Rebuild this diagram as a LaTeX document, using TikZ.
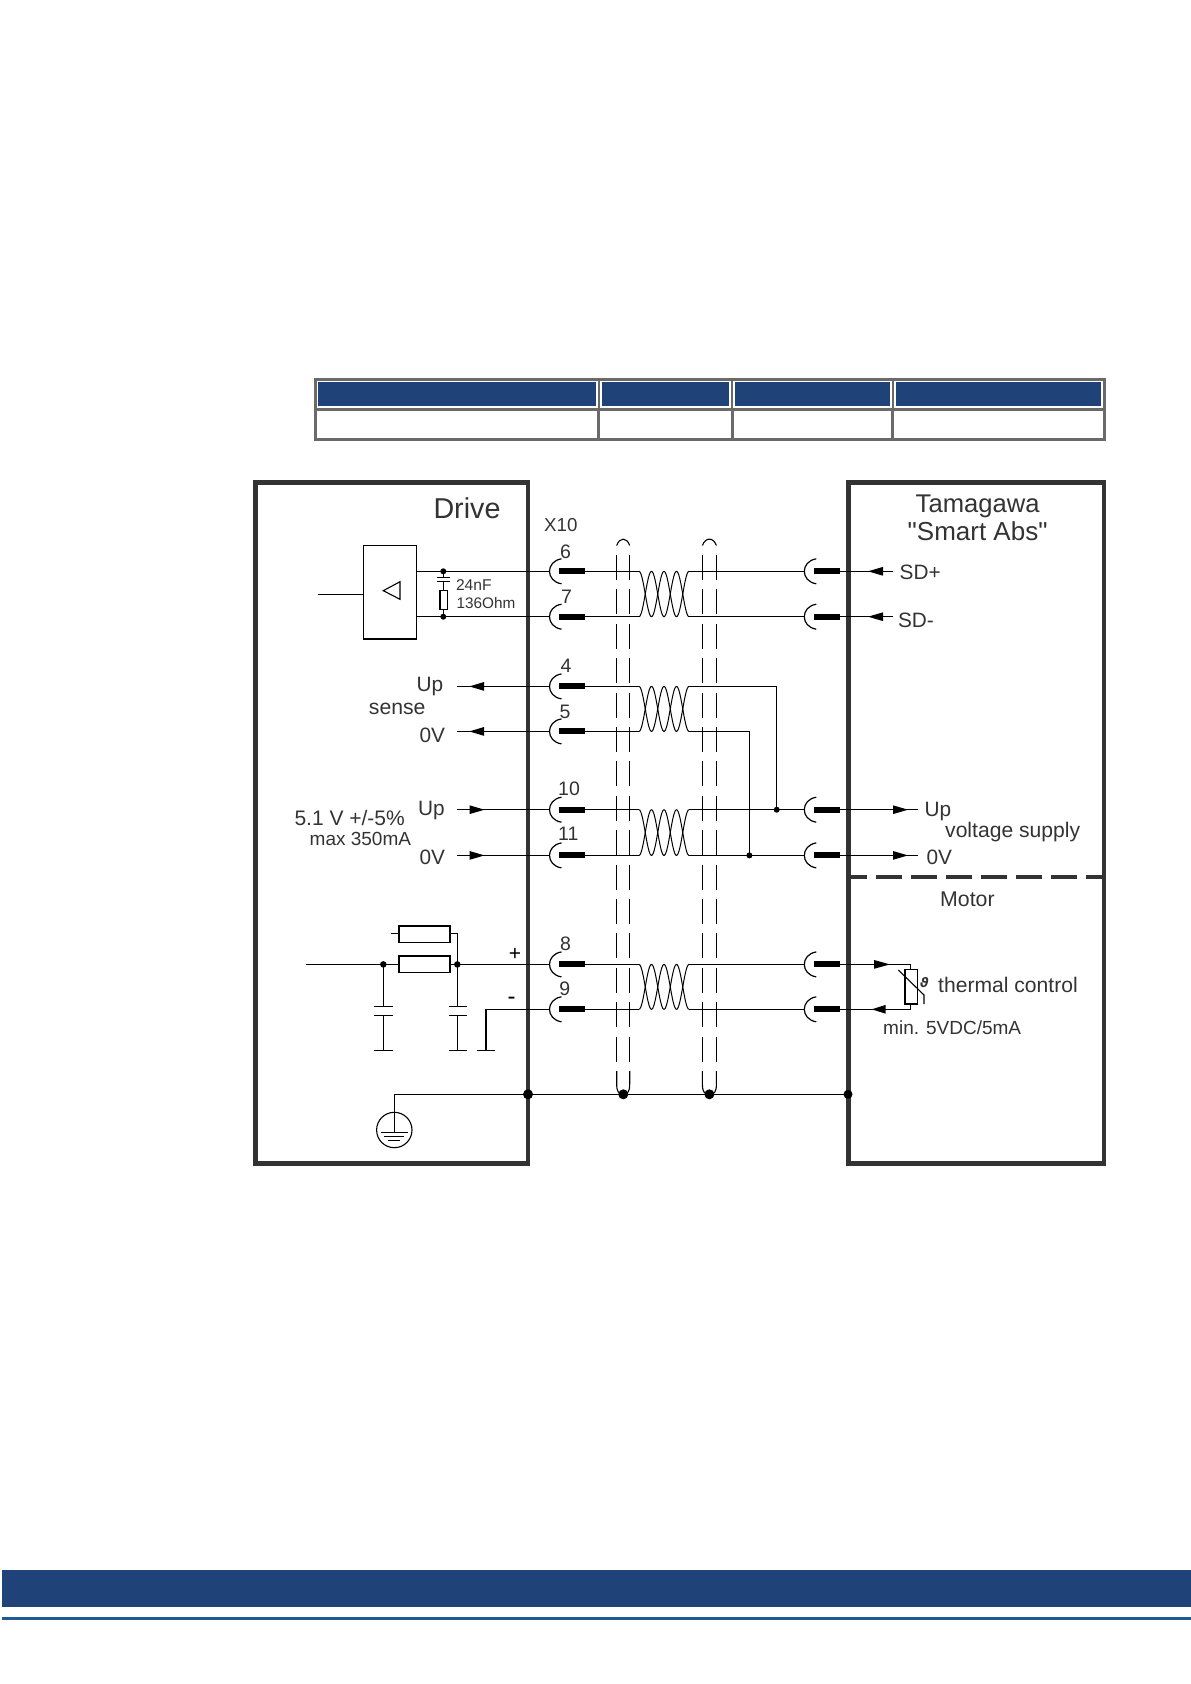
\documentclass[tikz,border=0pt]{standalone}
\usepackage{fontspec}
\setmainfont{Liberation Sans}
\newfontfamily\rawfont{Liberation Sans}
\newfontfamily\thetafont{DejaVu Sans}
\definecolor{hdrblue}{HTML}{1F4279}
\definecolor{linkblue}{HTML}{1E5A96}
\definecolor{tblgrey}{HTML}{6A6A6A}
\definecolor{boxdark}{HTML}{333333}
\definecolor{txt}{HTML}{333333}
\tikzset{
  wire/.style={draw=black,line width=1.1pt},
  boxline/.style={draw=boxdark,line width=4.6pt,line cap=rect},
  tbl/.style={draw=tblgrey,line width=3pt},
  hdr/.style={fill=hdrblue,draw=none},
  lbl/.style={inner sep=0pt,anchor=base west,text=txt},
  shieldl/.style={draw=black,line width=1.1pt,dash pattern=on 25pt off 9.4pt},
  junction/.style={circle,fill=black,draw=none,inner sep=0pt,minimum size=#1},
  comp/.style={draw=black,line width=1.6pt,fill=white},
}
\newcommand{\fs}[1]{\fontsize{#1}{#1}\selectfont}
% arrow head: tip x, base x, y
\newcommand{\ahead}[3]{\fill[black] (#1,#3) -- (#2,#3-4.4) -- (#2,#3+4.4) -- cycle;}
% connector: leftmost x, y
\newcommand{\conn}[2]{%
  \draw[wire,line width=1.2pt] (#1+12,#2-12.5) .. controls (#1-4,#2-10) and (#1-4,#2+10) .. (#1+12,#2+12.5);
  \fill[black] (#1+9.8,#2-3) rectangle (#1+35.5,#2+3);}
% twist between rows a,b
\newcommand{\twist}[2]{%
  \draw[wire,line width=1pt,domain=0:4,samples=60,smooth,variable=\t]
    plot ({639+12.5*\t},{(#1+#2)/2-(#2-#1)/2*cos(180*\t)});
  \draw[wire,line width=1pt,domain=0:4,samples=60,smooth,variable=\t]
    plot ({639+12.5*\t},{(#1+#2)/2+(#2-#1)/2*cos(180*\t)});}
\newcommand{\shield}[2]{%
  \draw[shieldl] (#1,555) -- (#1,1083);
  \draw[shieldl] (#2,555) -- (#2,1083);
  \draw[wire] (#1,1071) -- (#1,1084) .. controls (#1,1092) and (#1+2,1094) .. (#1+6.5,1094);
  \draw[wire] (#2,1071) -- (#2,1084) .. controls (#2,1092) and (#2-2,1094) .. (#2-6.5,1094);
  \draw[wire] (#1,545.5) .. controls (#1+3,537) and (#2-3,537) .. (#2,545.5);}
\begin{document}
\begin{tikzpicture}[x=1pt,y=-1pt]
\useasboundingbox (0,0) rectangle (1191,1684);
\fill[white] (0,0) rectangle (1191,1684);
% table
\fill[hdr] (317.7,382.3) rectangle (596.3,406);
\fill[hdr] (601.7,382.3) rectangle (729.3,406);
\fill[hdr] (734.7,382.3) rectangle (890,406);
\fill[hdr] (895.7,382.3) rectangle (1101,406);
\draw[tbl] (315.8,379.5) rectangle (1104.3,439.5);
\draw[tbl] (315.8,409.3) -- (1104.3,409.3);
\draw[tbl,line width=2.4pt] (598.8,379.5) -- (598.8,409.3);
\draw[tbl,line width=2.4pt] (732,379.5) -- (732,409.3);
\draw[tbl,line width=2.4pt] (892.7,379.5) -- (892.7,409.3);
\draw[tbl] (598.5,409.3) -- (598.5,439.5);
\draw[tbl] (732,409.3) -- (732,439.5);
\draw[tbl] (892.7,409.3) -- (892.7,439.5);
% footer
\fill[hdrblue] (1.5,1570) rectangle (1191,1606.7);
\fill[linkblue] (1.5,1616.6) rectangle (1191,1619.8);
% shields
\shield{616.7}{629.7}
\shield{702.4}{716.4}
% boxes
\draw[boxline] (255.5,482.3) rectangle (528,1163.5);
\draw[boxline] (848.3,482.3) rectangle (1104,1163.5);
\draw[boxdark,line width=3.8pt,dash pattern=on 25.5pt off 9.5pt,dash phase=9] (850,876.7) -- (1104,876.7);
% row coordinates
\coordinate (c6) at (549.5,571.3);
\coordinate (c7) at (549.5,616.7);
\coordinate (c4) at (549.5,686.4);
\coordinate (c5) at (549.5,731.4);
\coordinate (c10) at (549.5,809.7);
\coordinate (c11) at (549.5,855.4);
\coordinate (c8) at (549.5,964.4);
\coordinate (c9) at (549.5,1009.3);
% wires left
\draw[wire] (416.7,571.3) -- (c6);
\draw[wire] (416.7,616.7) -- (c7);
\draw[wire] (457.3,686.4) -- (c4);
\draw[wire] (457.3,731.4) -- (c5);
\draw[wire] (457.3,809.7) -- (c10);
\draw[wire] (457.3,855.4) -- (c11);
\draw[wire] (306,964.4) -- (c8);
\draw[wire] (486,1050.7) -- (486,1009.3) -- (c9);
% connectors left
\conn{549.5}{571.3}\conn{549.5}{616.7}\conn{549.5}{686.4}\conn{549.5}{731.4}
\conn{549.5}{809.7}\conn{549.5}{855.4}\conn{549.5}{964.4}\conn{549.5}{1009.3}
% bars to twist
\foreach \r in {571.3,616.7,686.4,731.4,809.7,855.4,964.4,1009.3}
  \draw[wire] (585,\r) -- (639,\r);
\twist{571.3}{616.7}\twist{686.4}{731.4}\twist{809.7}{855.4}\twist{964.4}{1009.3}
% right wires
\draw[wire] (689,571.3) -- (804.3,571.3);
\draw[wire] (689,616.7) -- (804.3,616.7);
\draw[wire] (689,809.7) -- (804.3,809.7);
\draw[wire] (689,855.4) -- (804.3,855.4);
\draw[wire] (689,964.4) -- (804.3,964.4);
\draw[wire] (689,1009.3) -- (804.3,1009.3);
\draw[wire] (689,686.4) -- (776.7,686.4) -- (776.7,809.7);
\draw[wire] (689,731.4) -- (749.4,731.4) -- (749.4,855.4);
\node[junction=6pt] (j1) at (776.7,809.7) {};
\node[junction=6pt] (j2) at (749.4,855.4) {};
\conn{804.3}{571.3}\conn{804.3}{616.7}\conn{804.3}{809.7}\conn{804.3}{855.4}\conn{804.3}{964.4}\conn{804.3}{1009.3}
% outputs right
\draw[wire] (840,571.3) -- (893,571.3);
\draw[wire] (840,616.7) -- (893,616.7);
\draw[wire] (840,809.7) -- (918,809.7);
\draw[wire] (840,855.4) -- (918,855.4);
\ahead{868}{883}{571.3}
\ahead{868}{883}{616.7}
\ahead{908}{893}{809.7}
\ahead{908}{893}{855.4}
% left arrows
\ahead{469.3}{484}{686.4}
\ahead{469.3}{484}{731.4}
\ahead{484.5}{469.5}{809.7}
\ahead{484.5}{469.5}{855.4}
% driver
\node[draw=black,line width=1.2pt,minimum width=53.4pt,minimum height=93.3pt,inner sep=0pt] (drv) at (390,592.35) {};
\draw[wire] (318.3,594.4) -- (363.3,594.4);
\draw[wire] (383.3,590.7) -- (400,581.7) -- (400,599.3) -- cycle;
% RC
\node[junction=6pt] (rc1) at (443.3,571.3) {};
\node[junction=6pt] (rc2) at (443.3,616.7) {};
\draw[wire] (443.3,571.3) -- (443.3,577.7);
\draw[wire] (437,577.7) -- (450.3,577.7);
\draw[wire] (437,581.7) -- (450.3,581.7);
\draw[wire] (443.3,581.7) -- (443.3,616.7);
\draw[comp,line width=1.2pt] (440,590.7) rectangle (447.3,609.3);
% thermal
\draw[wire] (840,964.4) -- (910.7,964.4) -- (910.7,969.3);
\draw[wire] (840,1009.3) -- (910.7,1009.3) -- (910.7,1004);
\ahead{890}{874}{964.4}
\ahead{871.7}{885.7}{1009.3}
\draw[comp] (904.7,969.3) rectangle (917.3,1004);
\draw[wire] (898.3,970) -- (924,995) -- (924,1004);
\node[lbl] (theta) at (920,987) {\fs{13}\thetafont\bfseries\itshape\symbol{"03D1}};
% input section
\draw[comp] (399,956) rectangle (450,972.3);
\draw[comp] (399,925.7) rectangle (450,942.3);
\draw[wire] (391,933.3) -- (399,933.3);
\draw[wire] (450,933.3) -- (457.3,933.3) -- (457.3,1006.7);
\node[junction=6.5pt] (i1) at (383.3,964.4) {};
\node[junction=6.5pt] (i2) at (457.3,964.4) {};
\draw[wire] (383.3,964.4) -- (383.3,1006.7);
\draw[wire] (374.3,1006.7) -- (392.7,1006.7);
\draw[wire] (374.3,1015.3) -- (392.7,1015.3);
\draw[wire] (383.3,1015.3) -- (383.3,1050.7);
\draw[wire] (374.3,1050.7) -- (392.7,1050.7);
\draw[wire] (448.7,1006.7) -- (466.7,1006.7);
\draw[wire] (448.7,1015.3) -- (466.7,1015.3);
\draw[wire] (457.3,1015.3) -- (457.3,1050.7);
\draw[wire] (448.7,1050.7) -- (466.7,1050.7);
\draw[wire] (476.7,1050.7) -- (495,1050.7);
% ground
\draw[wire] (394.3,1130) -- (394.3,1094.3) -- (848,1094.3);
\node[circle,draw=black,line width=1.1pt,minimum size=35.4pt,inner sep=0pt] (pe) at (394.3,1130) {};
\draw[wire] (394.3,1094.3) -- (394.3,1132.7);
\draw[wire] (380.8,1132.7) -- (407.8,1132.7);
\draw[wire] (384.3,1136.7) -- (404.3,1136.7);
\draw[wire] (388.3,1140.3) -- (400.3,1140.3);
\node[junction=10pt] (g1) at (528,1094.3) {};
\node[junction=10pt] (g2) at (623.3,1094.3) {};
\node[junction=10pt] (g3) at (709.4,1094.3) {};
\node[junction=9pt] (g4) at (848,1094.3) {};
% labels
\node[lbl] (l1) at (433.3,518.3) {\fs{28.7}Drive};
\node[lbl] (l2) at (544,531.7) {\fs{18.7}X10};
\node[lbl] (p6) at (559.8,558.3) {\fs{19.5}6};
\node[lbl] (p7) at (560.8,603.6) {\fs{19.5}7};
\node[lbl] (p4) at (560.3,672.4) {\fs{19.5}4};
\node[lbl] (p5) at (559.3,718.4) {\fs{19.5}5};
\node[lbl] (p10) at (558,795.3) {\fs{19.5}10};
\node[lbl] (p11) at (558,840.8) {\fs{19.5}11};
\node[lbl] (p8) at (559.8,950) {\fs{19.5}8};
\node[lbl] (p9) at (559.2,995.7) {\fs{19.5}9};
\node[lbl] (rc3) at (455.8,590.9) {\fs{15.6}24nF};
\node[lbl] (rc4) at (456.5,608.5) {\fs{15.3}136Ohm};
\node[lbl] (u1) at (416.5,691.4) {\fs{20.8}Up};
\node[lbl] (s1) at (368.7,714.8) {\fs{21.2}sense};
\node[lbl] (z1) at (419.3,742.4) {\fs{20.8}0V};
\node[lbl] (u2) at (418,815.7) {\fs{20.8}Up};
\node[lbl] (z2) at (419.3,864.4) {\fs{20.8}0V};
\node[lbl] (v1) at (294.3,825.6) {\fs{21}5.1 V +/-5\%};
\node[lbl] (v2) at (309.5,845.6) {\fs{19}max 350mA};
\node[lbl] (t1) at (915.5,512.6) {\fs{25.6}Tamagawa};
\node[lbl] (t2) at (907.5,540.8) {\fs{26}\rawfont"Smart Abs"};
\node[lbl] (sdp) at (899.5,579) {\fs{20.8}SD+};
\node[lbl] (sdm) at (897.8,627.4) {\fs{20.8}SD-};
\node[lbl] (u3) at (924.5,816.9) {\fs{20.8}Up};
\node[lbl] (vs) at (945,837.6) {\fs{21.1}voltage supply};
\node[lbl] (z3) at (926.3,864.8) {\fs{20.8}0V};
\node[lbl] (mot) at (940,906.8) {\fs{21.3}Motor};
\node[lbl] (tc) at (938,992.6) {\fs{21.1}thermal control};
\node[lbl] (mn) at (883,1034.2) {\fs{19}min. 5VDC/5mA};
\node[lbl,anchor=center,text=black] (pl) at (515,954) {\fs{21}+};
\node[lbl,anchor=center,text=black] (mi) at (511.7,1001) {\fs{24}-};
\end{tikzpicture}
\end{document}
